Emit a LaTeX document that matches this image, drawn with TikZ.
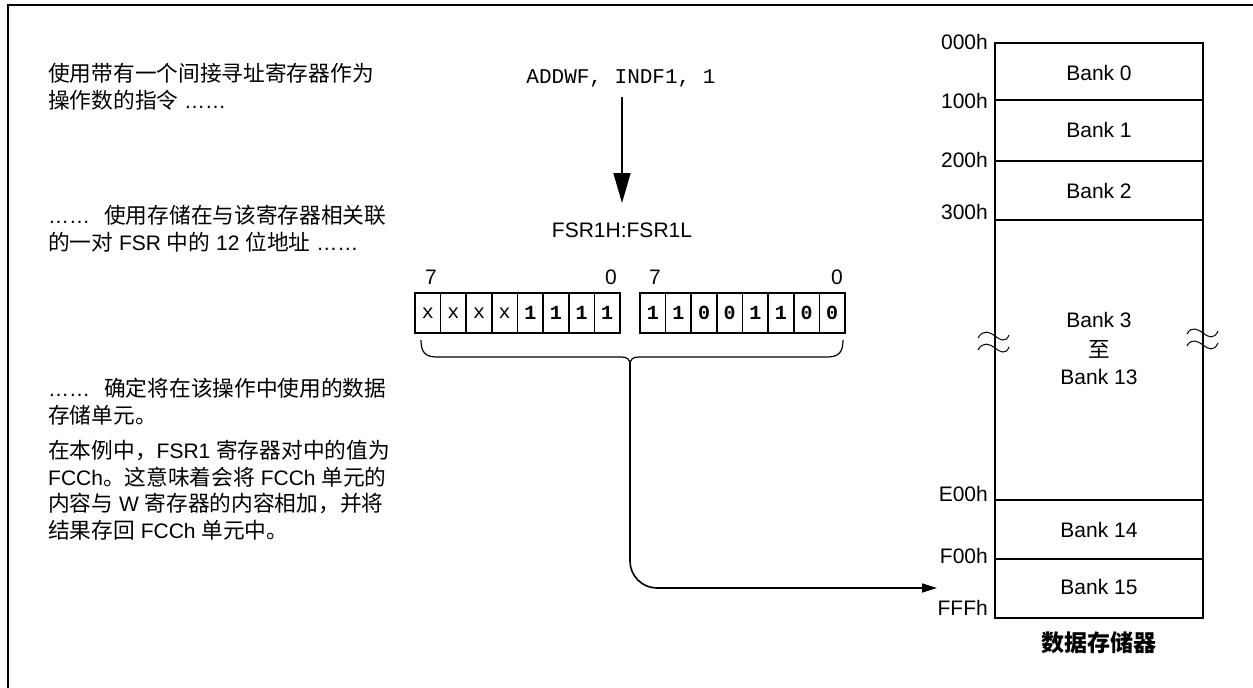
\documentclass[tikz,border=0pt]{standalone}
\usepackage{fontspec}
\setmainfont{Liberation Sans}
\newfontfamily\cjk{Noto Sans CJK SC}
\newfontfamily\monof{Liberation Mono}
\usetikzlibrary{arrows.meta}
\newcommand\cn[1]{{\cjk\fontsize{21.7}{25}\selectfont #1}}
\tikzset{
  txt/.style={inner sep=0pt, font=\fontsize{21}{25}\selectfont},
  lline/.style={txt, anchor=base west},
  addr/.style={txt, anchor=east},
  bank/.style={txt, anchor=center},
  cell/.style={draw, line width=1.6pt, minimum width=25.625pt, minimum height=40pt, inner sep=0pt, font=\monof\fontsize{20}{24}\selectfont},
  ln/.style={line width=1.6pt},
}
\begin{document}
\begin{tikzpicture}[x=1pt,y=-1pt]
\useasboundingbox (0,0) rectangle (1253,688);
% frame
\draw[line width=1.5pt] (8,688) -- (8,5) -- (1253,5);

% left text
\node[lline] (t1) at (48,81) {\cn{使用带有一个间接寻址寄存器作为}};
\node[lline] (t2) at (48,108) {\cn{操作数的指令} ……};
\node[lline] (t3) at (48,223) {……\hspace{14pt}\cn{使用存储在与该寄存器相关联}};
\node[lline] (t4) at (48,250) {\cn{的一对} FSR \cn{中的} 12 \cn{位地址} ……};
\node[lline] (t5) at (48,396) {……\hspace{14pt}\cn{确定将在该操作中使用的数据}};
\node[lline] (t6) at (48,423) {\cn{存储单元。}};
\node[lline] (t7) at (48,458) {\cn{在本例中，}FSR1 \cn{寄存器对中的值为}};
\node[lline] (t8) at (48,485) {FCCh\cn{。这意味着会将} FCCh \cn{单元的}};
\node[lline] (t9) at (48,511) {\cn{内容与} W \cn{寄存器的内容相加，并将}};
\node[lline] (t10) at (48,538) {\cn{结果存回} FCCh \cn{单元中。}};

% instruction
\node[txt, font=\monof\fontsize{21}{25}\selectfont] (ins) at (621,78) {ADDWF, INDF1, 1};
\node[txt] (fsr) at (622,230) {FSR1H:FSR1L};
\coordinate (a1) at (622,97);
\coordinate (a2) at (622,203);
\draw[ln, -{Triangle[length=30pt,width=17pt]}] (a1) -- (a2);

% registers
\foreach \v [count=\i] in {x,x,x,x,\textbf{1},\textbf{1},\textbf{1},\textbf{1}}
  \node[cell] (h\i) at ({415+25.625*(\i-0.5)},313) {\v};
\foreach \v [count=\i] in {1,1,0,0,1,1,0,0}
  \node[cell] (l\i) at ({640+25.625*(\i-0.5)},313) {\textbf{\v}};
\node[txt] (b7h) at (431,277) {7};
\node[txt] (b0h) at (611,277) {0};
\node[txt] (b7l) at (655,277) {7};
\node[txt] (b0l) at (837,277) {0};

% brace
\coordinate (bc) at (630,365);
\draw[line width=1.2pt] (421,340) .. controls (421,352) and (425,357) .. (437,357) -- (621,357) .. controls (627,357) and (630,359) .. (bc);
\draw[line width=1.2pt] (bc) .. controls (630,359) and (633,357) .. (639,357) -- (827,357) .. controls (839,357) and (843,352) .. (843,340);
\coordinate (tgt) at (937,588);
\draw[ln, rounded corners=27pt, -{Triangle[length=15pt,width=9pt]}] (bc) |- (tgt);

% memory
\draw[ln] (995,43) rectangle (1203,618);
\draw[ln] (995,100) -- (1203,100);
\draw[ln] (995,161) -- (1203,161);
\draw[ln] (995,220) -- (1203,220);
\draw[ln] (995,500) -- (1203,500);
\draw[ln] (995,559) -- (1203,559);
% breaks
\foreach \y in {336,348}
  \draw[line width=1pt] (978,\y+2) .. controls (983,\y-7) and (990,\y-4) .. (995,\y) .. controls (1000,\y+4) and (1006,\y+7) .. (1009,\y-1);
\foreach \y in {333,345}
  \draw[line width=1pt] (1187,\y+1) .. controls (1191,\y-7) and (1198,\y-4) .. (1203,\y) .. controls (1208,\y+4) and (1214,\y+7) .. (1218,\y-2);

\node[addr] (m0) at (988,42) {000h};
\node[addr] (m1) at (988,101) {100h};
\node[addr] (m2) at (988,160) {200h};
\node[addr] (m3) at (988,212) {300h};
\node[addr] (me) at (988,494) {E00h};
\node[addr] (mf) at (988,556) {F00h};
\node[addr] (mff) at (988,608) {FFFh};

\node[bank] (k0) at (1099,73) {Bank 0};
\node[bank] (k1) at (1099,130) {Bank 1};
\node[bank] (k2) at (1099,191) {Bank 2};
\node[bank] (k3) at (1099,320) {Bank 3};
\node[bank] (kz) at (1099,349) {\cn{至}};
\node[bank] (k13) at (1099,377) {Bank 13};
\node[bank] (k14) at (1099,530) {Bank 14};
\node[bank] (k15) at (1099,587) {Bank 15};
\node[txt] (mem) at (1099,643) {{\cjk\bfseries\fontsize{23}{26}\selectfont 数据存储器}};
\end{tikzpicture}
\end{document}
